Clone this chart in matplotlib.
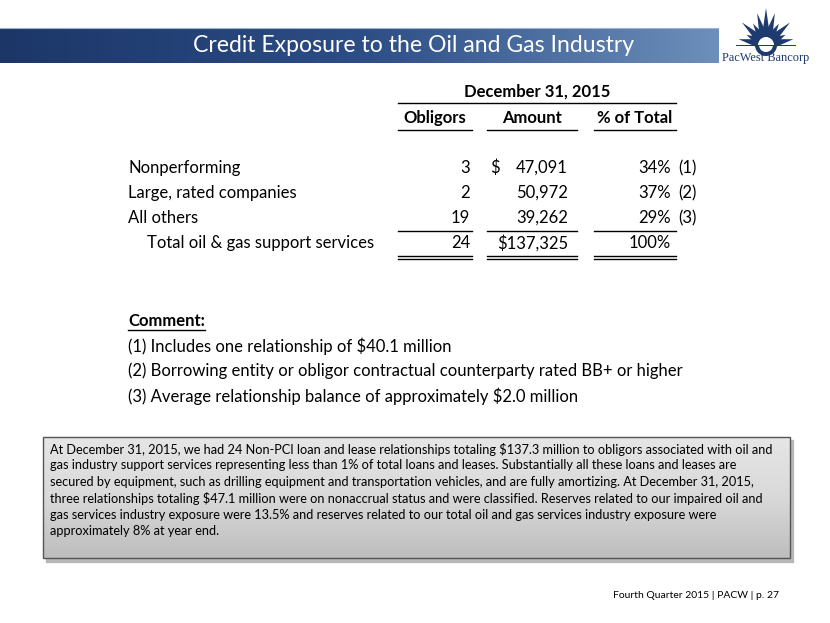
import numpy as np
import matplotlib
matplotlib.use("Agg")
import matplotlib.pyplot as plt
from matplotlib.patches import Rectangle, Polygon, Wedge
from matplotlib.colors import LinearSegmentedColormap

plt.rcParams["font.family"] = ["Lato", "DejaVu Sans"]

TITLE = "Credit Exposure to the Oil and Gas Industry"
PERIOD = "December 31, 2015"
COLUMNS = ["Obligors", "Amount", "% of Total"]
ROW_LABELS = ["Nonperforming", "Large, rated companies", "All others"]
OBLIGORS = [3, 2, 19]
AMOUNTS = [47091, 50972, 39262]
PCT = [34, 37, 29]
NOTES = ["(1)", "(2)", "(3)"]
TOTAL_LABEL = "Total oil & gas support services"
COMMENTS = [
    "(1) Includes one relationship of $40.1 million",
    "(2) Borrowing entity or obligor contractual counterparty rated BB+ or higher",
    "(3) Average relationship balance of approximately $2.0 million",
]
BOX_LINES = [
    "At December 31, 2015, we had 24 Non-PCI loan and lease relationships totaling $137.3 million to obligors associated with oil and",
    "gas industry support services representing less than 1% of total loans and leases. Substantially all these loans and leases are",
    "secured by equipment, such as drilling equipment and transportation vehicles, and are fully amortizing. At December 31, 2015,",
    "three relationships totaling $47.1 million were on nonaccrual status and were classified. Reserves related to our impaired oil and",
    "gas services industry exposure were 13.5% and reserves related to our total oil and gas services industry exposure were",
    "approximately 8% at year end.",
]
FOOTER = "Fourth Quarter 2015 | PACW | p. 27"

W, H = 830, 623
fig = plt.figure(figsize=(W / 100, H / 100), dpi=100)
ax = fig.add_axes([0, 0, 1, 1])
ax.set_xlim(0, W)
ax.set_ylim(H, 0)
ax.axis("off")

# title bar with gradient
grad = np.linspace(0, 1, 256).reshape(1, -1)
bar_cmap = LinearSegmentedColormap.from_list("bar", ["#1c3668", "#2c4d85", "#6d8fbb"])
ax.imshow(grad, cmap=bar_cmap, extent=[0, 718, 63, 28], aspect="auto", zorder=1)
ax.plot([0, 718], [28, 28], color="#9fb3cf", lw=0.8, zorder=2)
ax.text(414, 45.5, TITLE, color="white", fontsize=16.6, ha="center", va="center", zorder=3)

# logo: starburst
cx, cy = 766, 45
navy = "#1f3a6e"
angles = np.linspace(12, 168, 11)
lengths = [28, 22, 33, 25, 33, 37, 33, 25, 33, 22, 28]
for a, r in zip(angles, lengths):
    t = np.radians(a)
    tip = (cx + r * np.cos(t), cy - r * np.sin(t))
    perp = (np.sin(t) * 4.2, np.cos(t) * 4.2)
    b1 = (cx + 8 * np.cos(t) + perp[0], cy - 8 * np.sin(t) + perp[1])
    b2 = (cx + 8 * np.cos(t) - perp[0], cy - 8 * np.sin(t) - perp[1])
    ax.add_patch(Polygon([b1, tip, b2], closed=True, color=navy, lw=0, zorder=3))
ax.add_patch(Wedge((cx, cy), 11, 0, 180, color=navy, lw=0, zorder=4))
ax.add_patch(Wedge((cx, cy), 7, 0, 180, color="white", lw=0, zorder=5))
ax.add_patch(Rectangle((cx - 30, cy), 60, 1.3, color=navy, lw=0, zorder=5))
ax.text(766, 57.5, "PacWest Bancorp", family=["Liberation Serif", "DejaVu Serif"],
        fontsize=8.9, color=navy, ha="center", va="center", zorder=5)

# table
fs = 12.0
x_label = 128
col_spans = [(398, 472), (487, 577), (594, 676)]
col_centers = [(a + b) / 2 for a, b in col_spans]
ax.text(537, 92, PERIOD, fontsize=fs, weight="bold", ha="center", va="center")
ax.plot([398, 676], [103, 103], color="black", lw=1.0)
for (a, b), c, name in zip(col_spans, col_centers, COLUMNS):
    ax.text(c, 118, name, fontsize=fs, weight="bold", ha="center", va="center")
    ax.plot([a, b], [129.5, 129.5], color="black", lw=1.0)

row_y = [168, 193, 218]
x_obl = 470
x_amt = 568
x_pct = 671
for i, y in enumerate(row_y):
    ax.text(x_label, y, ROW_LABELS[i], fontsize=fs, ha="left", va="center")
    ax.text(x_obl, y, f"{OBLIGORS[i]}", fontsize=fs, ha="right", va="center")
    if i == 0:
        ax.text(490, y, "$", fontsize=fs, ha="left", va="center")
    ax.text(x_amt, y, f"{AMOUNTS[i]:,}", fontsize=fs, ha="right", va="center")
    ax.text(x_pct, y, f"{PCT[i]}%", fontsize=fs, ha="right", va="center")
    ax.text(678, y, NOTES[i], fontsize=fs, ha="left", va="center")

for a, b in col_spans:
    ax.plot([a, b], [230.5, 230.5], color="black", lw=1.0)
    ax.plot([a, b], [255.5, 255.5], color="black", lw=1.0)
    ax.plot([a, b], [258.5, 258.5], color="black", lw=1.0)

y_tot = 243
ax.text(x_label + 19, y_tot, TOTAL_LABEL, fontsize=fs, ha="left", va="center")
ax.text(x_obl, y_tot, f"{sum(OBLIGORS)}", fontsize=fs, ha="right", va="center")
ax.text(x_amt, y_tot, f"${sum(AMOUNTS):,}", fontsize=fs, ha="right", va="center")
ax.text(x_pct, y_tot, f"{sum(PCT)}%", fontsize=fs, ha="right", va="center")

# comments
t = ax.text(x_label, 321, "Comment:", fontsize=fs, weight="bold", ha="left", va="center")
fig.canvas.draw()
bb = t.get_window_extent().transformed(ax.transData.inverted())
ax.plot([bb.x0, bb.x1], [330, 330], color="black", lw=1.0)
for k, line in enumerate(COMMENTS):
    ax.text(x_label, 346 + 25 * k, line, fontsize=fs, ha="left", va="center")

# grey box with shadow
ax.add_patch(Rectangle((46, 440), 747, 122, color="#b8b8b8", zorder=1))
box_grad = np.linspace(0, 1, 256).reshape(-1, 1)
box_cmap = LinearSegmentedColormap.from_list("box", ["#e6e6e6", "#d9d9d9", "#bdbdbd"])
ax.imshow(box_grad, cmap=box_cmap, extent=[43, 790, 558, 437], aspect="auto", zorder=2)
ax.add_patch(Rectangle((43, 437), 747, 121, fill=False, ec="#555555", lw=1.0, zorder=3))
for k, line in enumerate(BOX_LINES):
    ax.text(50, 449 + 16.4 * k, line, fontsize=9.2, ha="left", va="center", zorder=4)

ax.text(779, 596, FOOTER, fontsize=7.5, ha="right", va="center")

fig.savefig("out.png", dpi=100)
